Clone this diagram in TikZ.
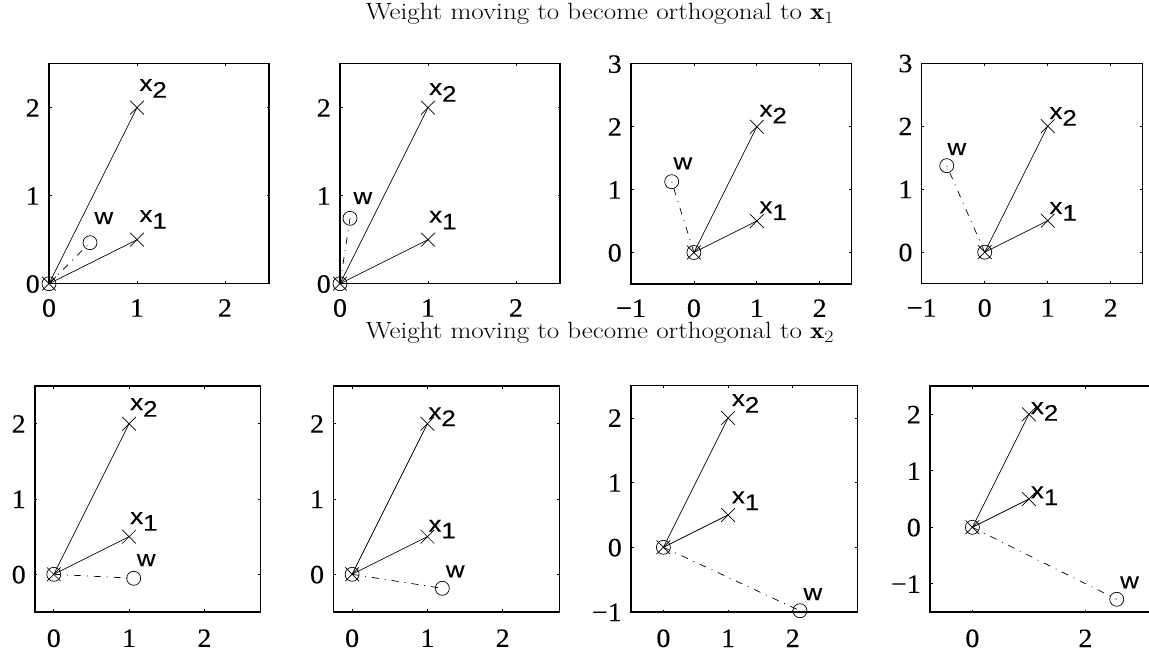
\documentclass[tikz,border=0pt]{standalone}
\usepackage{fontspec}
\newfontfamily\tickfont[FakeBold=0.15]{Liberation Serif}
\newfontfamily\labfont[FakeBold=0.2]{Liberation Sans}
\usetikzlibrary{shapes.misc}
\tikzset{
  frame/.style={line width=1.2pt},
  tk/.style={line width=0.8pt},
  vec/.style={line width=0.7pt},
  wline/.style={line width=0.7pt, dash pattern=on 7pt off 6pt on 1pt off 6pt},
  xmk/.style={cross out, draw, line width=0.7pt, minimum size=13pt, inner sep=0pt},
  omk/.style={circle, draw, line width=0.7pt, minimum size=14pt, inner sep=0pt},
  xtl/.style={anchor=base, inner sep=0pt, font=\tickfont\fontsize{26.5}{26.5}\selectfont},
  ytl/.style={anchor=base east, inner sep=0pt, xshift=-9pt, yshift=-9pt, font=\tickfont\fontsize{26.5}{26.5}\selectfont},
  lab/.style={anchor=base west, inner sep=0pt, font=\labfont\fontsize{22.5}{23}\selectfont},
  ttl/.style={anchor=base, inner sep=0pt, font=\fontsize{23.5}{23.5}\selectfont}
}
\newcommand{\sx}[1]{\scalebox{1.06}[1]{#1}}
\newcommand{\lx}[1]{\scalebox{1.15}[1]{#1}}
% #1 xmin #2 xmax #3 ymin #4 ymax #5 xticks #6 yticks #7 prefix #8 label drop
\newcommand{\myframe}[8]{%
  \draw[frame] (#1,#3) rectangle (#2,#4);
  \foreach \t/\s [count=\i] in {#5} {
    \draw[tk] (\t,#3) -- ++(0pt,2.5pt);
    \draw[tk] (\t,#4) -- ++(0pt,-2.5pt);
    \node[xtl, yshift=-#8] (#7xt\i) at (\t,#3) {\sx{\s}};
  }
  \foreach \t/\s [count=\i] in {#6} {
    \draw[tk] (#1,\t) -- ++(2.5pt,0pt);
    \draw[tk] (#2,\t) -- ++(-2.5pt,0pt);
    \node[ytl] (#7yt\i) at (#1,\t) {\sx{\s}};
  }
}
% #1 prefix, #2 w position
\newcommand{\myvecs}[2]{%
  \node[omk] (#1o) at (0,0) {};
  \node[xmk] (#1ox) at (0,0) {};
  \node[xmk] (#1x1) at (1,0.5) {};
  \node[xmk] (#1x2) at (1,2) {};
  \node[omk] (#1w) at (#2) {};
  \draw[vec] (#1o.center) -- (#1x1.center);
  \draw[vec] (#1o.center) -- (#1x2.center);
  \draw[wline] (#1o.center) -- (#1w.center);
}
\newcommand{\xlab}[1]{\lx{x\raisebox{-6.7pt}{#1}}}
\begin{document}
\begin{tikzpicture}[x=1pt,y=-1pt]
\useasboundingbox (0,0) rectangle (1149,652);

\node[ttl] (title1) at (600,19.5) {\scalebox{1.15}[1]{Weight moving to become orthogonal to $\mathbf{x}_1$}};
\node[ttl] (title2) at (600,339) {\scalebox{1.15}[1]{Weight moving to become orthogonal to $\mathbf{x}_2$}};

% ---------- top row ----------
\begin{scope}[shift={(49,283.7)}, x=88pt, y=88pt]
  \myframe{0}{2.5}{0}{2.5}{0/0,1/1,2/2}{0/0,1/1,2/2}{a}{33pt}
  \myvecs{a}{0.466,0.466}
\end{scope}
\node[lab] (alx2) at (139.3,91) {\xlab{2}};
\node[lab] (alx1) at (139.3,222) {\xlab{1}};
\node[lab] (alw) at (94.3,224) {\lx{w}};

\begin{scope}[shift={(340,283.7)}, x=88pt, y=88pt]
  \myframe{0}{2.5}{0}{2.5}{0/0,1/1,2/2}{0/0,1/1,2/2}{b}{33pt}
  \myvecs{b}{0.114,0.743}
\end{scope}
\node[lab] (blx2) at (429,95) {\xlab{2}};
\node[lab] (blx1) at (429,222.7) {\xlab{1}};
\node[lab] (blw) at (353.3,204) {\lx{w}};

\begin{scope}[shift={(693.9,252.5)}, x=62.9pt, y=62.9pt]
  \myframe{-1}{2.5}{-0.5}{3}{-1/−1,0/0,1/1,2/2}{0/0,1/1,2/2,3/3}{c}{33pt}
  \myvecs{c}{-0.353,1.126}
\end{scope}
\node[lab] (clx2) at (759.3,116.7) {\xlab{2}};
\node[lab] (clx1) at (759.3,213.3) {\xlab{1}};
\node[lab] (clw) at (673.3,169.3) {\lx{w}};

\begin{scope}[shift={(984.7,252.2)}, x=63pt, y=63pt]
  \myframe{-1}{2.5}{-0.5}{3}{-1/−1,0/0,1/1,2/2}{0/0,1/1,2/2,3/3}{d}{33pt}
  \myvecs{d}{-0.603,1.373}
\end{scope}
\node[lab] (dlx2) at (1049.3,119) {\xlab{2}};
\node[lab] (dlx1) at (1049.3,214) {\xlab{1}};
\node[lab] (dlw) at (947.3,155) {\lx{w}};

% ---------- bottom row ----------
\begin{scope}[shift={(53.8,574.3)}, x=75.3pt, y=75.3pt]
  \myframe{-0.25}{2.75}{-0.5}{2.5}{0/0,1/1,2/2}{0/0,1/1,2/2}{e}{35pt}
  \myvecs{e}{1.061,-0.053}
\end{scope}
\node[lab] (elx2) at (130,410) {\xlab{2}};
\node[lab] (elx1) at (130,524) {\xlab{1}};
\node[lab] (elw) at (136.7,566) {\lx{w}};

\begin{scope}[shift={(352.1,574.3)}, x=75.3pt, y=75.3pt]
  \myframe{-0.25}{2.75}{-0.5}{2.5}{0/0,1/1,2/2}{0/0,1/1,2/2}{f}{35pt}
  \myvecs{f}{1.198,-0.186}
\end{scope}
\node[lab] (flx2) at (428.3,419.3) {\xlab{2}};
\node[lab] (flx1) at (428.3,531.7) {\xlab{1}};
\node[lab] (flw) at (445.7,577.3) {\lx{w}};

\begin{scope}[shift={(663.4,547.3)}, x=64.7pt, y=64.7pt]
  \myframe{-0.5}{3}{-1}{2.5}{0/0,1/1,2/2}{-1/−1,0/0,1/1,2/2}{g}{35pt}
  \myvecs{g}{2.111,-0.98}
\end{scope}
\node[lab] (glx2) at (731.7,406) {\xlab{2}};
\node[lab] (glx1) at (731.7,503.3) {\xlab{1}};
\node[lab] (glw) at (803.3,600) {\lx{w}};

\begin{scope}[shift={(972.4,527.3)}, x=56.5pt, y=56.5pt]
  \myframe{-0.75}{3.25}{-1.5}{2.5}{0/0,2/2}{-1/−1,0/0,1/1,2/2}{h}{35pt}
  \myvecs{h}{2.554,-1.274}
\end{scope}
\node[lab] (hlx2) at (1030.7,414) {\xlab{2}};
\node[lab] (hlx1) at (1030.7,498.3) {\xlab{1}};
\node[lab] (hlw) at (1120,588.3) {\lx{w}};
\end{tikzpicture}
\end{document}
